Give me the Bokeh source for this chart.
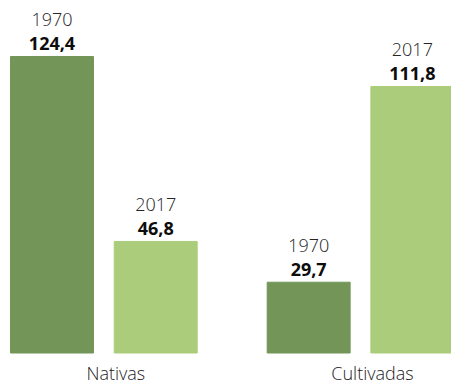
from bokeh.plotting import figure
from bokeh.models import Range1d, ColumnDataSource
from bokeh.core.properties import value
from bokeh.embed import file_html
from bokeh.resources import INLINE

# ---- data ----
categories = ["Nativas", "Cultivadas"]
years = ["1970", "2017"]
values_1970 = [124.4, 29.7]
values_2017 = [46.8, 111.8]
value_labels_1970 = ["124,4", "29,7"]
value_labels_2017 = ["46,8", "111,8"]

colors = {"1970": "#739658", "2017": "#abcd7b"}

# ---- layout parameters ----
group_gap = 0.475      # gap between the two groups (in bar-slot units)
bar_width = 0.8
unit_px = 103.7        # pixels per bar slot
W, H = 451, 385

xs, tops, cols, yrs, vlabs = [], [], [], [], []
for gi, cat in enumerate(categories):
    for yi, yr in enumerate(years):
        xs.append(gi * (2 + group_gap) + yi + 0.5)
        v = values_1970[gi] if yr == "1970" else values_2017[gi]
        lab = value_labels_1970[gi] if yr == "1970" else value_labels_2017[gi]
        tops.append(v)
        cols.append(colors[yr])
        yrs.append(yr)
        vlabs.append(lab)

src = ColumnDataSource(dict(x=xs, top=tops, color=cols, year=yrs, vlab=vlabs))

x_start = 0.5 - 51.5 / unit_px
px_per_val = 2.3835
y_start = -32.5 / px_per_val
y_end = y_start + H / px_per_val

p = figure(width=W, height=H, output_backend="svg", toolbar_location=None,
           x_range=Range1d(x_start, x_start + W / unit_px),
           y_range=Range1d(y_start, y_end),
           min_border=0, outline_line_color=None, background_fill_color="white",
           border_fill_color="white")
p.xaxis.visible = False
p.yaxis.visible = False
p.grid.visible = False

p.vbar(x="x", top="top", bottom=0, width=bar_width, color="color", source=src)

p.text(x="x", y="top", text="vlab", source=src, text_align="center",
       text_baseline="alphabetic", y_offset=-13, text_font=value("Open Sans"),
       text_font_style="bold", text_font_size="18px", text_color="#0d0d0d")
p.text(x="x", y="top", text="year", source=src, text_align="center",
       text_baseline="alphabetic", y_offset=-37, text_font=value("Open Sans Light"),
       text_font_size="18px", text_color="#262626")

cx = [gi * (2 + group_gap) + 1.0 for gi in range(len(categories))]
p.text(x=cx, y=[0] * len(categories), text=categories, text_align="center",
       text_baseline="alphabetic", x_offset=12, y_offset=19.5,
       text_font=value("Open Sans Light"), text_font_size="18px", text_color="#1a1a1a")

open("out.html", "w").write(file_html(p, INLINE))
